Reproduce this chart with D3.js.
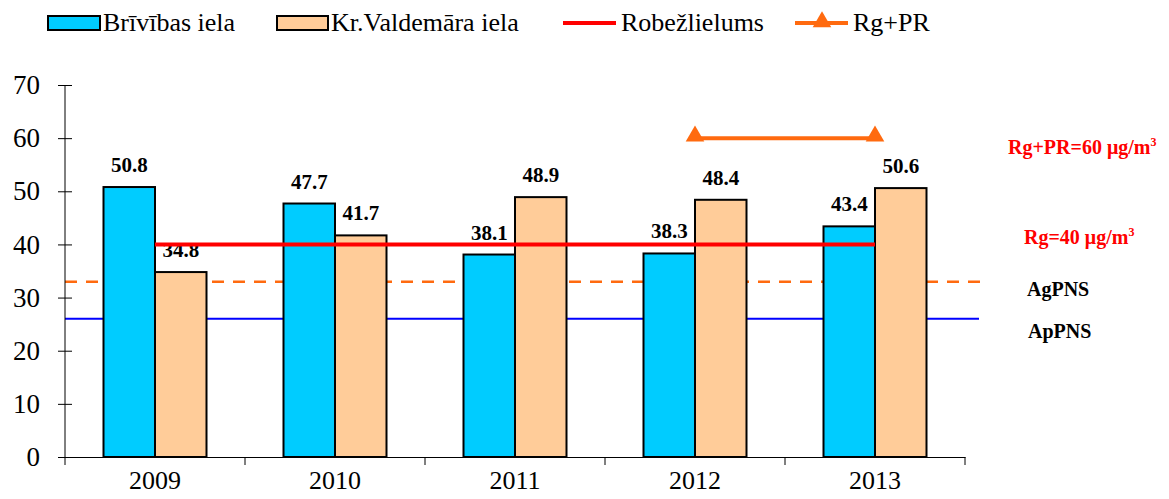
<!DOCTYPE html>
<html>
<head>
<meta charset="utf-8">
<script src="https://cdn.jsdelivr.net/npm/d3@7"></script>
<style>
  body { margin: 0; background: #fff; }
  svg, svg text { font-family: "Liberation Serif", "Times New Roman", Times, "DejaVu Serif", serif !important; }
</style>
</head>
<body>
<div id="chart"></div>
<script>
// data
var years = ["2009", "2010", "2011", "2012", "2013"];
var brivibas = [50.8, 47.7, 38.1, 38.3, 43.4];
var valdemara = [34.8, 41.7, 48.9, 48.4, 50.6];
var robezlielumsYears = ["2009", "2013"];
var robezlielums = 40;
var rgPrYears = ["2012", "2013"];
var rgPr = 60;
var agPNS = 33;
var apPNS = 26;
var yTicks = [0, 10, 20, 30, 40, 50, 60, 70];

var W = 1169, H = 499;
var margin = {top: 85, left: 65, right: 204, bottom: 42};
var width = W - margin.left - margin.right,   // ~900
    height = H - margin.top - margin.bottom;  // 372

var svg = d3.select("#chart").append("svg")
            .attr("width", W)
            .attr("height", H);

var g = svg.append("g")
           .attr("transform", "translate(" + margin.left + "," + margin.top + ")");

// scales
var x = d3.scaleBand().domain(years).range([0, width]).paddingInner(0).paddingOuter(0);
var x1 = d3.scaleBand().domain(["b", "v"]).range([0, 103]);
var groupOff = (x.bandwidth() - 103) / 2;
var y = d3.scaleLinear().domain([0, 70]).range([height, 0]);

// reference lines
g.append("line")
  .attr("x1", 0).attr("x2", width + 16)
  .attr("y1", y(agPNS)).attr("y2", y(agPNS))
  .attr("stroke", "#FF6A0F").attr("stroke-width", 2.5)
  .attr("stroke-dasharray", "12,9");

g.append("line")
  .attr("x1", 0).attr("x2", width + 14)
  .attr("y1", y(apPNS)).attr("y2", y(apPNS))
  .attr("stroke", "#0000FF").attr("stroke-width", 2);

// bars
var groups = g.selectAll(".grp")
  .data(years)
  .enter().append("g")
  .attr("transform", function(d) { return "translate(" + (x(d) + groupOff) + ",0)"; });

groups.append("rect")
  .attr("x", x1("b"))
  .attr("y", function(d, i) { return y(brivibas[i]); })
  .attr("width", x1.bandwidth())
  .attr("height", function(d, i) { return height - y(brivibas[i]); })
  .attr("fill", "#00CCFF").attr("stroke", "#000").attr("stroke-width", 2);

groups.append("rect")
  .attr("x", x1("v"))
  .attr("y", function(d, i) { return y(valdemara[i]); })
  .attr("width", x1.bandwidth())
  .attr("height", function(d, i) { return height - y(valdemara[i]); })
  .attr("fill", "#FFCC99").attr("stroke", "#000").attr("stroke-width", 2);

// value labels
groups.append("text")
  .attr("x", x1("b") + x1.bandwidth() / 2)
  .attr("y", function(d, i) { return y(brivibas[i]) - 15; })
  .attr("text-anchor", "middle")
  .style("font-weight", "bold").style("font-size", "21px")
  .text(function(d, i) { return brivibas[i].toFixed(1); });

groups.append("text")
  .attr("x", x1("v") + x1.bandwidth() / 2)
  .attr("y", function(d, i) { return y(valdemara[i]) - 15; })
  .attr("text-anchor", "middle")
  .style("font-weight", "bold").style("font-size", "21px")
  .text(function(d, i) { return valdemara[i].toFixed(1); });

// Robežlielums line (from 2009 to 2013 group centres)
var cx = function(d) { return x(d) + x.bandwidth() / 2; };
g.append("line")
  .attr("x1", cx(robezlielumsYears[0])).attr("x2", cx(robezlielumsYears[1]))
  .attr("y1", y(robezlielums)).attr("y2", y(robezlielums))
  .attr("stroke", "#FF0000").attr("stroke-width", 4);

// Rg+PR line with triangles
g.append("line")
  .attr("x1", cx(rgPrYears[0])).attr("x2", cx(rgPrYears[1]))
  .attr("y1", y(rgPr)).attr("y2", y(rgPr))
  .attr("stroke", "#FF6A0F").attr("stroke-width", 4);

g.selectAll(".tri")
  .data(rgPrYears)
  .enter().append("path")
  .attr("d", d3.symbol().type(d3.symbolTriangle).size(150))
  .attr("transform", function(d) { return "translate(" + cx(d) + "," + (y(rgPr) - 2) + ")"; })
  .attr("fill", "#FF6A0F");

// axes
var yAxis = g.append("g")
  .call(d3.axisLeft(y).tickValues(yTicks).tickSize(8).tickSizeOuter(0));
yAxis.attr("font-family", null);
yAxis.select(".domain").attr("stroke", "#000").attr("d", "M0,0V" + (height + 8));
yAxis.selectAll(".tick line").attr("x2", 7).attr("x1", -7).attr("stroke", "#000");
yAxis.selectAll(".tick text").attr("x", -25)
  .style("font-size", "27px").attr("fill", "#000");

var xAxis = g.append("g")
  .attr("transform", "translate(0," + height + ")")
  .call(d3.axisBottom(x).tickSize(0).tickSizeOuter(0));
xAxis.attr("font-family", null);
xAxis.select(".domain").attr("stroke", "#000").attr("stroke-width", 1);
xAxis.selectAll(".tick text").attr("y", 14)
  .style("font-size", "26px").attr("fill", "#000");
// boundary ticks between categories
xAxis.selectAll(".bt")
  .data(years.slice(1).concat(["end"]))
  .enter().append("line")
  .attr("x1", function(d, i) { return x.step() * (i + 1); })
  .attr("x2", function(d, i) { return x.step() * (i + 1); })
  .attr("y1", 0).attr("y2", 8)
  .attr("stroke", "#000");

// right side annotations
var ann = svg.append("g").style("font-weight", "bold").style("font-size", "20px");
var t1 = ann.append("text").attr("x", 1008).attr("y", 154).attr("fill", "#FF0000");
t1.append("tspan").text("Rg+PR=60 μg/m");
t1.append("tspan").attr("dy", -8).style("font-size", "12px").text("3");
var t2 = ann.append("text").attr("x", 1024).attr("y", 244).attr("fill", "#FF0000");
t2.append("tspan").text("Rg=40 μg/m");
t2.append("tspan").attr("dy", -8).style("font-size", "12px").text("3");
ann.append("text").attr("x", 1027).attr("y", 296).attr("fill", "#000").text("AgPNS");
ann.append("text").attr("x", 1028).attr("y", 338).attr("fill", "#000").text("ApPNS");

// legend
var leg = svg.append("g").style("font-size", "26px");
leg.append("rect").attr("x", 48).attr("y", 16).attr("width", 52).attr("height", 14)
  .attr("fill", "#00CCFF").attr("stroke", "#000").attr("stroke-width", 2);
leg.append("text").attr("x", 103).attr("y", 31).text("Brīvības iela");
leg.append("rect").attr("x", 277).attr("y", 16).attr("width", 51).attr("height", 14)
  .attr("fill", "#FFCC99").attr("stroke", "#000").attr("stroke-width", 2);
leg.append("text").attr("x", 331).attr("y", 31).text("Kr.Valdemāra iela");
leg.append("line").attr("x1", 563).attr("x2", 616).attr("y1", 23).attr("y2", 23)
  .attr("stroke", "#FF0000").attr("stroke-width", 4);
leg.append("text").attr("x", 621).attr("y", 31).text("Robežlielums");
leg.append("line").attr("x1", 795).attr("x2", 848).attr("y1", 23).attr("y2", 23)
  .attr("stroke", "#FF6A0F").attr("stroke-width", 4);
leg.append("path")
  .attr("d", d3.symbol().type(d3.symbolTriangle).size(150))
  .attr("transform", "translate(822,22)").attr("fill", "#FF6A0F");
leg.append("text").attr("x", 853).attr("y", 31).text("Rg+PR");
</script>
</body>
</html>
